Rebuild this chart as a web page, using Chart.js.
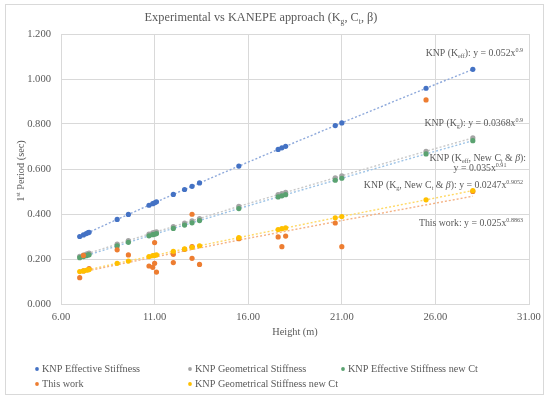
<!DOCTYPE html>
<html>
<head>
<meta charset="utf-8">
<title>Experimental vs KANEPE approach</title>
<script src="https://cdn.jsdelivr.net/npm/chart.js@4.4.1/dist/chart.umd.min.js"></script>
<style>
    html, body { margin: 0; padding: 0; background: #ffffff; }
    #wrap { width: 550px; height: 403px; }
</style>
</head>
<body>
<div id="wrap"><canvas id="period-chart" width="550" height="403"></canvas></div>
<script>
// -----------------------------------------
// Data
// -----------------------------------------
const heights = [7.0, 7.2, 7.35, 7.45, 7.5, 9.0, 9.6, 10.7, 10.9, 11.0, 11.1, 12.0, 12.6, 13.0, 13.4, 15.5, 17.6, 17.8, 18.0, 20.65, 21.0, 25.5, 28.0];

const effStiffness      = [0.300, 0.307, 0.313, 0.317, 0.319, 0.376, 0.398, 0.439, 0.446, 0.450, 0.454, 0.487, 0.509, 0.523, 0.538, 0.613, 0.687, 0.694, 0.701, 0.793, 0.805, 0.959, 1.043];
const geoStiffness      = [0.212, 0.217, 0.222, 0.224, 0.226, 0.266, 0.282, 0.311, 0.316, 0.319, 0.321, 0.344, 0.360, 0.370, 0.380, 0.434, 0.486, 0.491, 0.496, 0.561, 0.570, 0.679, 0.738];
const effStiffnessNewCt = [0.206, 0.211, 0.215, 0.218, 0.219, 0.258, 0.274, 0.303, 0.308, 0.310, 0.313, 0.336, 0.351, 0.361, 0.371, 0.424, 0.476, 0.481, 0.486, 0.550, 0.559, 0.667, 0.726];
const geoStiffnessNewCt = [0.144, 0.147, 0.150, 0.152, 0.153, 0.181, 0.191, 0.211, 0.215, 0.216, 0.218, 0.234, 0.245, 0.252, 0.259, 0.295, 0.331, 0.335, 0.338, 0.383, 0.389, 0.463, 0.504];

// experimental ("This work") points
const workHeights = [7.0, 7.2, 7.2, 7.5, 9.0, 9.6, 10.7, 10.9, 11.0, 11.0, 11.1, 12.0, 12.0, 12.6, 13.0, 13.0, 13.0, 13.4, 15.5, 17.6, 17.8, 18.0, 20.65, 21.0, 25.5, 28.0];
const workPeriods = [0.117, 0.216, 0.147, 0.157, 0.241, 0.218, 0.169, 0.163, 0.181, 0.273, 0.142, 0.221, 0.184, 0.243, 0.399, 0.255, 0.203, 0.176, 0.290, 0.298, 0.255, 0.302, 0.360, 0.255, 0.907, 0.500];

// dotted power trendline through the experimental points
const workTrendX = [7.0, 11.0, 15.5, 21.0, 28.0];
const workTrendY = [0.140, 0.209, 0.284, 0.371, 0.479];

const xTicks = [6, 11, 16, 21, 26, 31];
const yTicks = [0, 0.2, 0.4, 0.6, 0.8, 1.0, 1.2];

const seriesNames = [
    "KNP Effective Stiffness",
    "KNP Geometrical Stiffness",
    "KNP Effective Stiffness new Ct",
    "This work",
    "KNP Geometrical Stiffness new Ct"
];


// -----------------------------------------
// Colours (Office palette)
// -----------------------------------------
const BLUE = "#4472C4";
const GRAY = "#A5A5A5";
const GREEN = "#5AA270";
const ORANGE = "#ED7D31";
const GOLD = "#FFC000";
const TEXT = "#595959";
const GRID = "#D9D9D9";
const SERIF = "'Liberation Serif', 'Times New Roman', serif";

function points(xs, ys) {
    return xs.map(function (x, i) { return { x: x, y: ys[i] }; });
}

function markers(label, xs, ys, color, order) {
    return {
        label: label,
        data: points(xs, ys),
        backgroundColor: color,
        borderColor: color,
        borderWidth: 0,
        pointRadius: 2.6,
        pointHoverRadius: 2.6,
        showLine: false,
        order: order
    };
}

function trend(xs, ys, color) {
    return {
        label: "trend",
        data: points(xs, ys),
        borderColor: color,
        borderWidth: 1.4,
        borderDash: [2, 2],
        pointRadius: 0,
        showLine: true,
        fill: false,
        tension: 0,
        order: 20
    };
}


// -----------------------------------------
// Rich text helper (sub / superscripts)
// -----------------------------------------
function richWidth(ctx, segs, size) {
    let w = 0;
    segs.forEach(function (s) {
        const sz = (s.sub || s.sup) ? size * 0.62 : size;
        ctx.font = (s.it ? "italic " : "") + sz + "px " + SERIF;
        w += ctx.measureText(s.t).width;
    });
    return w;
}

function drawRich(ctx, segs, x, y, size, align) {
    const total = richWidth(ctx, segs, size);
    let cx = x;
    if (align === "right") cx = x - total;
    if (align === "center") cx = x - total / 2;
    ctx.textBaseline = "alphabetic";
    ctx.textAlign = "left";
    segs.forEach(function (s) {
        const sz = (s.sub || s.sup) ? size * 0.62 : size;
        ctx.font = (s.it ? "italic " : "") + sz + "px " + SERIF;
        let dy = 0;
        if (s.sub) dy = size * 0.22;
        if (s.sup) dy = -size * 0.4;
        ctx.fillText(s.t, cx, y + dy);
        cx += ctx.measureText(s.t).width;
    });
}


// -----------------------------------------
// Plugin: frame, titles, equations, legend
// -----------------------------------------
const decorations = {
    id: "decorations",
    beforeDraw: function (chart) {
        const ctx = chart.ctx;
        ctx.save();
        ctx.fillStyle = "#ffffff";
        ctx.fillRect(0, 0, chart.width, chart.height);
        ctx.strokeStyle = GRID;
        ctx.lineWidth = 1;
        ctx.strokeRect(5.5, 4.5, 538, 390);
        ctx.restore();
    },
    afterDraw: function (chart) {
        const ctx = chart.ctx;
        ctx.save();
        ctx.fillStyle = TEXT;

        // chart title
        drawRich(ctx, [
            { t: "Experimental vs KANEPE approach (K" }, { t: "g", sub: true },
            { t: ", C" }, { t: "t", sub: true }, { t: ", β)" }
        ], 261, 21, 12.3, "center");

        // axis titles
        drawRich(ctx, [{ t: "Height (m)" }], 295, 335, 10.3, "center");
        ctx.save();
        ctx.translate(24, 171);
        ctx.rotate(-Math.PI / 2);
        drawRich(ctx, [{ t: "1" }, { t: "st", sup: true }, { t: " Period (sec)" }], 0, 0, 10.3, "center");
        ctx.restore();

        // trendline equations
        const eq = 9.8;
        drawRich(ctx, [
            { t: "KNP (K" }, { t: "eff", sub: true }, { t: "): y = 0.052x" }, { t: "0.9", sup: true }
        ], 523, 56, eq, "right");
        drawRich(ctx, [
            { t: "KNP (K" }, { t: "g", sub: true }, { t: "): y = 0.0368x" }, { t: "0.9", sup: true }
        ], 523, 126, eq, "right");
        drawRich(ctx, [
            { t: "KNP (K" }, { t: "eff", sub: true }, { t: ", New C" }, { t: "t", sub: true },
            { t: " & " }, { t: "β", it: true }, { t: "):" }
        ], 526, 161, eq, "right");
        drawRich(ctx, [{ t: "y = 0.035x" }, { t: "0.91", sup: true }], 480, 171, eq, "center");
        drawRich(ctx, [
            { t: "KNP (K" }, { t: "g", sub: true }, { t: ", New C" }, { t: "t", sub: true },
            { t: " & " }, { t: "β", it: true }, { t: "): y = 0.0247x" }, { t: "0.9052", sup: true }
        ], 523, 188, eq, "right");
        drawRich(ctx, [
            { t: "This work: y = 0.025x" }, { t: "0.8863", sup: true }
        ], 523, 226, eq, "right");

        // legend, laid out like the Excel one (3 columns, 2 rows)
        const colors = [BLUE, GRAY, GREEN, ORANGE, GOLD];
        const cols = [37, 190, 343];
        const rows = [369, 384];
        seriesNames.forEach(function (name, i) {
            const px = cols[i % 3];
            const py = rows[Math.floor(i / 3)];
            ctx.fillStyle = colors[i];
            ctx.beginPath();
            ctx.arc(px, py, 1.9, 0, Math.PI * 2);
            ctx.fill();
            ctx.fillStyle = TEXT;
            ctx.font = "10.2px " + SERIF;
            ctx.textAlign = "left";
            ctx.textBaseline = "middle";
            ctx.fillText(name, px + 5, py + 0.5);
        });

        ctx.restore();
    }
};


// -----------------------------------------
// Chart
// -----------------------------------------
const ctx = document.getElementById("period-chart");

new Chart(ctx, {
    type: "scatter",
    data: {
        datasets: [
            markers(seriesNames[0], heights, effStiffness, BLUE, 5),
            markers(seriesNames[1], heights, geoStiffness, GRAY, 4),
            markers(seriesNames[2], heights, effStiffnessNewCt, GREEN, 3),
            markers(seriesNames[3], workHeights, workPeriods, ORANGE, 2),
            markers(seriesNames[4], heights, geoStiffnessNewCt, GOLD, 1),
            trend(heights, effStiffness, "#8EA9DB"),
            trend(heights, geoStiffness, "#C9C9C9"),
            trend(heights, effStiffnessNewCt, "#9DC3E6"),
            trend(workTrendX, workTrendY, "#F4B183"),
            trend(heights, geoStiffnessNewCt, "#FFD966")
        ]
    },
    options: {
        responsive: false,
        animation: false,
        events: [],
        layout: { padding: { top: 34, right: 21, left: 0, bottom: 0 } },
        scales: {
            x: {
                type: "linear",
                min: xTicks[0],
                max: xTicks[xTicks.length - 1],
                afterBuildTicks: function (scale) {
                    scale.ticks = xTicks.map(function (v) { return { value: v }; });
                },
                afterFit: function (scale) { scale.height = 99; },
                grid: { color: GRID, drawTicks: false },
                border: { color: GRID },
                ticks: {
                    color: TEXT,
                    padding: 7,
                    font: { family: SERIF, size: 10.6 },
                    callback: function (v) { return Number(v).toFixed(2); }
                }
            },
            y: {
                type: "linear",
                min: yTicks[0],
                max: yTicks[yTicks.length - 1],
                afterBuildTicks: function (scale) {
                    scale.ticks = yTicks.map(function (v) { return { value: v }; });
                },
                afterFit: function (scale) { scale.width = 61; },
                grid: { color: GRID, drawTicks: false },
                border: { display: false },
                ticks: {
                    color: TEXT,
                    padding: 10,
                    font: { family: SERIF, size: 10.6 },
                    callback: function (v) { return Number(v).toFixed(3); }
                }
            }
        },
        plugins: {
            legend: { display: false },
            tooltip: { enabled: false }
        }
    },
    plugins: [decorations]
});
</script>
</body>
</html>
